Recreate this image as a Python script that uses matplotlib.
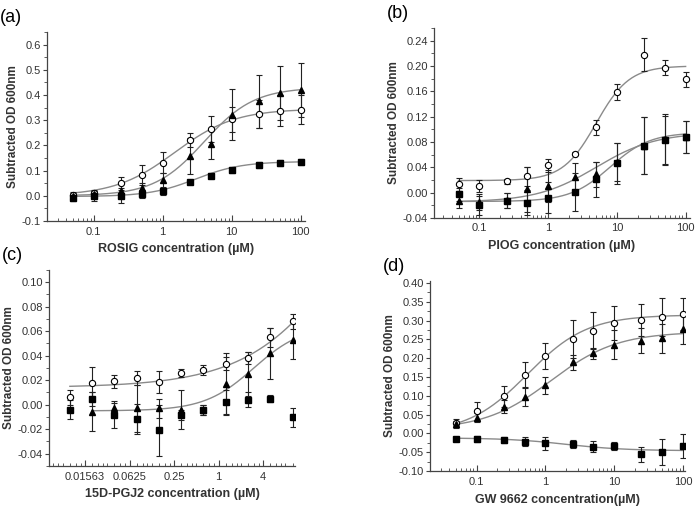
import numpy as np
import matplotlib
matplotlib.use("Agg")
import matplotlib.pyplot as plt
from matplotlib.ticker import MultipleLocator, FormatStrFormatter, FixedLocator, NullFormatter

plt.rcParams['font.family'] = ['Liberation Sans', 'DejaVu Sans']
plt.rcParams['axes.unicode_minus'] = False

# ---- data ----
conc = [0.05, 0.1, 0.25, 0.5, 1, 2.5, 5, 10, 25, 50, 100]
conc_c = [10 / 2 ** k for k in range(10, -1, -1)]

# (a) ROSIG
a_circ = [0.005, 0.012, 0.049, 0.084, 0.132, 0.222, 0.266, 0.303, 0.325, 0.338, 0.342]
a_circ_err = [0.01, 0.01, 0.027, 0.04, 0.04, 0.027, 0.052, 0.05, 0.057, 0.06, 0.057]
a_tri = [0.0, 0.009, 0.02, 0.032, 0.062, 0.158, 0.204, 0.322, 0.375, 0.408, 0.42]
a_tri_err = [0.01, 0.01, 0.03, 0.02, 0.03, 0.07, 0.06, 0.1, 0.105, 0.106, 0.108]
a_sq = [-0.007, -0.001, 0.0, 0.007, 0.018, 0.055, 0.079, 0.104, 0.122, 0.13, 0.133]
a_sq_err = [0.015, 0.02, 0.03, 0.015, 0.015, 0.008, 0.01, 0.012, 0.012, 0.012, 0.012]

# (b) PIOG
b_circ = [0.013, 0.0105, 0.018, 0.026, 0.043, 0.0615, 0.103, 0.159, 0.218, 0.197, 0.179]
b_circ_err = [0.01, 0.01, 0.004, 0.015, 0.01, 0.002, 0.012, 0.013, 0.026, 0.012, 0.012]
b_tri = [-0.014, -0.015, -0.012, 0.005, 0.01, 0.025, 0.029, 0.049, 0.074, 0.084, 0.088]
b_tri_err = [0.01, 0.012, 0.012, 0.035, 0.025, 0.022, 0.02, 0.03, 0.045, 0.04, 0.025]
b_sq = [-0.003, -0.02, -0.013, -0.016, -0.008, 0.001, 0.021, 0.046, 0.074, 0.083, 0.088]
b_sq_err = [0.01, 0.015, 0.012, 0.02, 0.025, 0.03, 0.028, 0.032, 0.045, 0.038, 0.025]

# (c) 15D-PGJ2
c_circ = [0.006, 0.018, 0.019, 0.0217, 0.0187, 0.026, 0.028, 0.0336, 0.038, 0.055, 0.068]
c_circ_err = [0.006, 0.013, 0.005, 0.006, 0.009, 0.003, 0.004, 0.005, 0.005, 0.008, 0.006]
c_tri = [np.nan, -0.0057, -0.003, -0.003, -0.003, -0.004, -0.004, 0.017, 0.025, 0.042, 0.0525]
c_tri_err = [np.nan, 0.016, 0.006, 0.019, 0.008, 0.016, 0.004, 0.025, 0.018, 0.021, 0.015]
c_sq = [-0.004, 0.0046, -0.0087, -0.0116, -0.021, -0.0084, -0.0043, 0.0024, 0.004, 0.005, -0.0103]
c_sq_err = [0.008, 0.006, 0.01, 0.012, 0.021, 0.004, 0.004, 0.01, 0.006, 0.003, 0.008]

# (d) GW 9662
d_circ = [0.028, 0.059, 0.099, 0.156, 0.206, 0.251, 0.273, 0.293, 0.302, 0.31, 0.318]
d_circ_err = [0.01, 0.025, 0.028, 0.035, 0.035, 0.05, 0.05, 0.045, 0.042, 0.05, 0.042]
d_tri = [0.024, 0.041, 0.071, 0.097, 0.128, 0.189, 0.213, 0.236, 0.246, 0.253, 0.277]
d_tri_err = [0.01, 0.012, 0.018, 0.025, 0.022, 0.02, 0.015, 0.038, 0.033, 0.038, 0.04]
d_sq = [-0.014, -0.015, -0.0175, -0.022, -0.026, -0.028, -0.035, -0.034, -0.056, -0.049, -0.033]
d_sq_err = [0.004, 0.008, 0.008, 0.012, 0.017, 0.01, 0.015, 0.01, 0.02, 0.035, 0.032]

# fitted dose-response parameters: bottom, top, EC50, hill
a_fits = {'circ': (0.0, 0.345, 1.5, 1.0), 'tri': (0.0, 0.43, 4.0, 1.2), 'sq': (-0.003, 0.136, 3.0, 1.3)}
b_fits = {'circ': (0.019, 0.2, 5.0, 1.8), 'tri': (-0.015, 0.095, 5.0, 1.0), 'sq': (-0.014, 0.095, 8.0, 1.5)}
c_fits = {'circ': (0.014, 0.3, 118.0, 0.6), 'tri': (-0.005, 0.065, 3.0, 1.3)}
d_fits = {'circ': (0.0, 0.315, 0.55, 1.0), 'tri': (0.01, 0.27, 1.2, 0.9), 'sq': (-0.012, -0.046, 2.0, 1.0)}


def logistic(x, p):
    bottom, top, ec50, hill = p
    return bottom + (top - bottom) / (1 + (ec50 / x) ** hill)


fig = plt.figure(figsize=(6.97, 5.08), dpi=100)

curve_col = '#8a8a8a'
txt_col = '#333333'

marker_style = {
    'circ': dict(marker='o', mfc='white', mec='black', ms=4.5, mew=0.8),
    'tri': dict(marker='^', mfc='black', mec='black', ms=5),
    'sq': dict(marker='s', mfc='black', mec='black', ms=4.5),
}


def panel(rect, x, series, fits, ylim, ymaj, ymin, yfmt, xlim, xlabel, tag, base=10):
    ax = fig.add_axes(rect)
    ax.set_xscale('log', base=base)
    for key, (y, err) in series.items():
        y = np.array(y, dtype=float)
        xx = np.array(x)
        ok = ~np.isnan(y)
        if key in fits:
            xs = np.logspace(np.log10(xx[ok][0]), np.log10(xx[ok][-1]), 200)
            ax.plot(xs, logistic(xs, fits[key]), color=curve_col, lw=1.0, zorder=1)
        ax.errorbar(xx[ok], y[ok], yerr=np.array(err)[ok], fmt='none', ecolor='#222222',
                    elinewidth=0.8, capsize=2, capthick=0.8, zorder=2)
        ax.plot(xx[ok], y[ok], ls='none', zorder=3, **marker_style[key])
    ax.set_xlim(*xlim)
    ax.set_ylim(*ylim)
    ax.yaxis.set_major_locator(MultipleLocator(ymaj))
    ax.yaxis.set_minor_locator(MultipleLocator(ymin))
    ax.yaxis.set_major_formatter(FormatStrFormatter(yfmt))
    ax.xaxis.set_minor_formatter(NullFormatter())
    for s in ('top', 'right'):
        ax.spines[s].set_visible(False)
    for s in ('left', 'bottom'):
        ax.spines[s].set_color('#444444')
        ax.spines[s].set_linewidth(0.9)
    ax.tick_params(axis='y', which='major', direction='out', length=3, width=0.8,
                   labelsize=8, colors='#444444', labelcolor=txt_col, pad=1.5)
    ax.tick_params(axis='y', which='minor', direction='out', length=2, width=0.6, colors='#444444')
    ax.tick_params(axis='x', which='major', direction='in', length=4, width=0.8,
                   labelsize=8, colors='#444444', labelcolor=txt_col, pad=4)
    ax.tick_params(axis='x', which='minor', direction='in', length=2, width=0.6, colors='#444444')
    ax.set_ylabel('Subtracted OD 600nm', fontsize=8.5, fontweight='bold', color=txt_col, labelpad=2)
    ax.set_xlabel(xlabel, fontsize=9, fontweight='bold', color=txt_col, labelpad=5)
    fig.text(rect[0] - 0.067, rect[1] + rect[3] + 0.012, tag, fontsize=13, color='black',
             va='bottom', ha='left')
    return ax


log_ticks = [0.1, 1, 10, 100]
log_labels = ['0.1', '1', '10', '100']

ax_a = panel([0.0674, 0.565, 0.370, 0.372], conc,
             {'circ': (a_circ, a_circ_err), 'tri': (a_tri, a_tri_err), 'sq': (a_sq, a_sq_err)},
             a_fits, (-0.1, 0.65), 0.1, 0.05, '%.1f', (0.021, 115),
             'ROSIG concentration (\u00b5M)', '(a)')
ax_b = panel([0.6227, 0.571, 0.367, 0.374], conc,
             {'circ': (b_circ, b_circ_err), 'tri': (b_tri, b_tri_err), 'sq': (b_sq, b_sq_err)},
             b_fits, (-0.04, 0.26), 0.04, 0.02, '%.2f', (0.022, 115),
             'PIOG concentration (\u00b5M)', '(b)')
ax_d = panel([0.617, 0.0728, 0.366, 0.374], conc,
             {'circ': (d_circ, d_circ_err), 'tri': (d_tri, d_tri_err), 'sq': (d_sq, d_sq_err)},
             d_fits, (-0.10, 0.405), 0.05, 0.025, '%.2f', (0.021, 108),
             'GW 9662 concentration(\u00b5M)', '(d)')
for ax in (ax_a, ax_b, ax_d):
    ax.xaxis.set_major_locator(FixedLocator(log_ticks))
    ax.set_xticklabels(log_labels)

ax_c = panel([0.0703, 0.0827, 0.353, 0.386], conc_c,
             {'circ': (c_circ, c_circ_err), 'tri': (c_tri, c_tri_err), 'sq': (c_sq, c_sq_err)},
             c_fits, (-0.05, 0.11), 0.02, 0.01, '%.2f', (0.0051, 10.8),
             '15D-PGJ2 concentration (\u00b5M)', '(c)', base=2)
c_ticks = [0.015625, 0.0625, 0.25, 1, 4]
ax_c.xaxis.set_major_locator(FixedLocator(c_ticks))
ax_c.set_xticklabels(['0.01563', '0.0625', '0.25', '1', '4'])
c_minor = [b * m for b in [2.0 ** e for e in range(-8, 4)] for m in (1.0, 1.25, 1.5, 1.75)]
ax_c.xaxis.set_minor_locator(FixedLocator([v for v in c_minor if v not in c_ticks]))
ax_c.xaxis.set_minor_formatter(NullFormatter())

fig.savefig('out.png', dpi=100)
